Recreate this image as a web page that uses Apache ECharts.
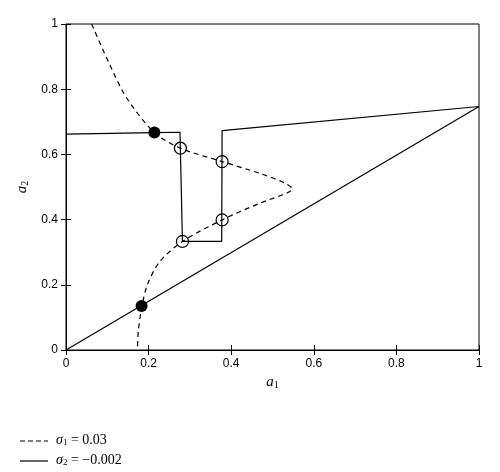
<!DOCTYPE html>
<html><head><meta charset="utf-8">
<script src="https://cdn.jsdelivr.net/npm/echarts@6/dist/echarts.min.js"></script>
<style>html,body{margin:0;background:#fff}#c{width:500px;height:472px}</style>
</head><body><div id="c"></div>
<script>
const dashedCurve = [[0.062,1],[0.106,0.875],[0.147,0.773],[0.214,0.667],[0.277,0.619],[0.378,0.578],[0.469,0.542],[0.53,0.512],[0.548,0.494],[0.534,0.481],[0.469,0.45],[0.378,0.399],[0.282,0.333],[0.227,0.271],[0.197,0.2],[0.183,0.128],[0.175,0.056],[0.173,0]];
const solidStair = [[0,0.662],[0.214,0.667],[0.276,0.668],[0.282,0.333],[0.377,0.333],[0.378,0.673],[1,0.747]];
const diagonal = [[0,0],[1,0.747]];
const filledPts = [[0.214,0.667],[0.183,0.135]];
const openPts = [[0.277,0.619],[0.378,0.578],[0.378,0.399],[0.282,0.333]];
const ticks = [0,0.2,0.4,0.6,0.8,1];
const ax = {min:0,max:1,interval:0.2,
  axisLine:{show:true,onZero:false,lineStyle:{color:'#000'}},
  axisTick:{inside:true,length:5,lineStyle:{color:'#000'}},
  splitLine:{show:false},
  axisLabel:{color:'#000',fontFamily:'Liberation Sans',fontSize:12,formatter:v=>String(+v.toFixed(1))}};
const mirror = {min:0,max:1,interval:0.2,axisLine:{show:false},axisTick:{inside:true,length:5,lineStyle:{color:'#000'}},axisLabel:{show:false},splitLine:{show:false}};
const chart = echarts.init(document.getElementById('c'));
chart.setOption({
  animation:false,
  grid:{left:66,right:21,top:24,bottom:122,show:true,borderColor:'#000',borderWidth:1},
  xAxis:[Object.assign({type:'value',name:'{i|a}{s|1}',nameLocation:'middle',nameGap:22,
    nameTextStyle:{rich:{i:{fontStyle:'italic',fontFamily:'Liberation Serif',fontSize:15},s:{fontSize:10,fontFamily:'Liberation Serif',padding:[6,0,0,0]}}}},ax),
    Object.assign({type:'value',position:'top'},mirror)],
  yAxis:[Object.assign({type:'value',name:'{i|a}{s|2}',nameLocation:'middle',nameGap:36,
    nameTextStyle:{rich:{i:{fontStyle:'italic',fontFamily:'Liberation Serif',fontSize:15},s:{fontSize:10,fontFamily:'Liberation Serif',padding:[6,0,0,0]}}}},ax),
    Object.assign({type:'value',position:'right'},mirror)],
  series:[
    {type:'line',data:dashedCurve,smooth:0.3,showSymbol:false,lineStyle:{color:'#000',width:1.2,type:[5,4]}},
    {type:'line',data:solidStair,showSymbol:false,lineStyle:{color:'#000',width:1.2}},
    {type:'line',data:diagonal,showSymbol:false,lineStyle:{color:'#000',width:1.2}},
    {type:'scatter',data:openPts,symbolSize:12,itemStyle:{color:'rgba(255,255,255,0)',borderColor:'#000',borderWidth:1.2,opacity:1},z:5},
    {type:'scatter',data:filledPts,symbolSize:12,itemStyle:{color:'#000',opacity:1},z:5}
  ],
  graphic:[
    {type:'line',shape:{x1:20,y1:441,x2:48,y2:441},style:{stroke:'#000',lineWidth:1.2,lineDash:[5,3]}},
    {type:'line',shape:{x1:20,y1:461,x2:48,y2:461},style:{stroke:'#000',lineWidth:1.2}},
    {type:'text',left:56,top:433,style:{text:'{i|σ}{s|1} = 0.03',rich:{i:{fontStyle:'italic',fontFamily:'Liberation Serif',fontSize:14},s:{fontSize:9,fontFamily:'Liberation Serif',padding:[6,0,0,0]}},fontFamily:'Liberation Serif',fontSize:14,fill:'#000'}},
    {type:'text',left:56,top:453,style:{text:'{i|σ}{s|2} = −0.002',rich:{i:{fontStyle:'italic',fontFamily:'Liberation Serif',fontSize:14},s:{fontSize:9,fontFamily:'Liberation Serif',padding:[6,0,0,0]}},fontFamily:'Liberation Serif',fontSize:14,fill:'#000'}}
  ]
});
</script></body></html>
